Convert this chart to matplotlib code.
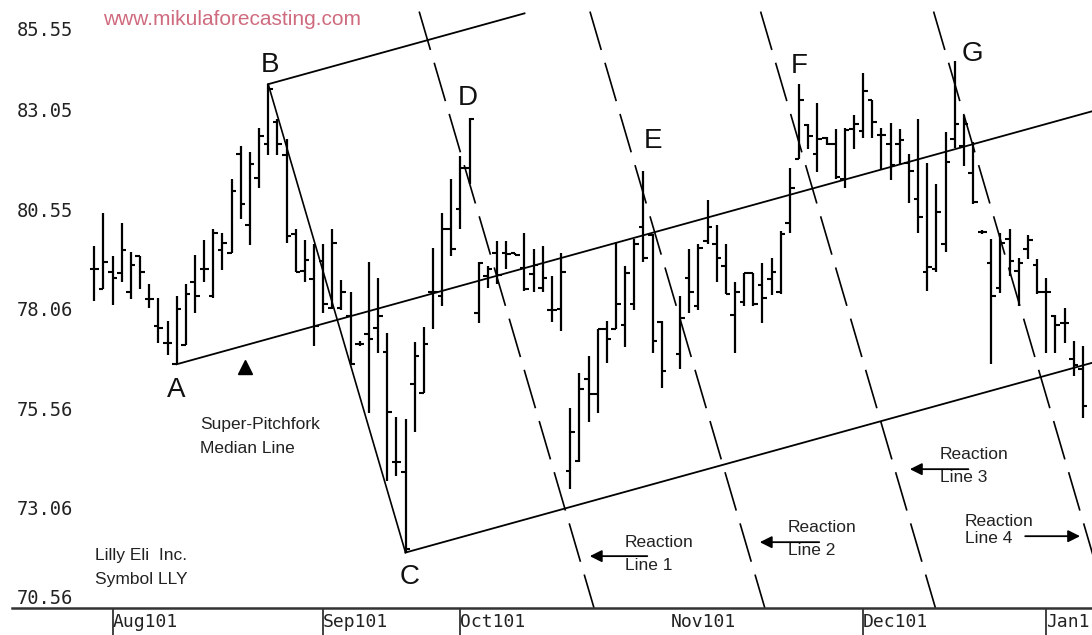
import matplotlib.pyplot as plt
from matplotlib.transforms import ScaledTranslation

plt.rcParams['font.family'] = ['Liberation Sans', 'DejaVu Sans']

# Eli Lilly (LLY) daily bars, trading-day index (day 63 is not printed)
day = list(range(0, 63)) + list(range(64, 109))
high = [79.62, 80.44, 79.37, 80.19, 79.47, 79.37, 78.66, 78.33, 77.74, 78.37,
        78.66, 79.39, 79.77, 80.06, 79.96, 81.31, 82.13, 81.98, 82.57, 83.68,
        82.80, 82.30, 80.06, 79.77, 79.67, 79.67, 80.04, 78.76, 78.46, 77.24,
        79.22, 78.81, 77.45, 75.35, 75.28, 77.22, 77.59, 79.58, 80.44, 81.31,
        81.88, 82.84, 79.22, 79.12, 79.75, 79.75, 79.46, 79.96, 79.56, 79.62,
        78.87, 79.46, 75.57, 76.43, 76.87, 77.54, 77.74, 79.72, 79.11, 79.79,
        81.50, 79.92, 77.74,
        78.37, 79.54, 79.67, 80.78, 80.14, 79.67, 78.71, 78.94, 78.94, 79.19,
        79.33, 80.00, 81.59, 83.68, 82.67, 83.20, 82.35, 82.55, 82.59, 82.90,
        83.95, 83.28, 82.59, 82.70, 82.55, 81.92, 82.80, 81.70, 81.17, 82.47,
        84.25, 82.90, 82.22, 80.02, 79.79, 79.96, 80.06, 79.33, 79.89, 79.29,
        78.81, 77.89, 78.08, 77.24, 77.12]
low = [78.25, 78.54, 78.14, 78.72, 78.29, 78.54, 78.06, 77.18, 76.88, 76.66,
       77.14, 77.95, 78.72, 78.33, 79.01, 79.46, 80.31, 79.64, 81.09, 81.90,
       81.90, 79.71, 78.97, 78.72, 77.12, 77.95, 78.04, 78.01, 76.66, 77.12,
       75.45, 76.95, 73.73, 73.86, 71.94, 74.95, 75.95, 77.55, 78.11, 79.37,
       80.04, 81.17, 77.69, 78.56, 78.68, 79.04, 79.39, 78.50, 78.47, 78.46,
       77.72, 77.49, 73.53, 74.21, 75.21, 75.45, 76.70, 77.54, 77.10, 78.02,
       79.22, 76.95, 76.06,
       76.53, 77.95, 78.02, 79.67, 78.72, 78.41, 76.95, 78.12, 78.12, 77.70,
       78.39, 78.41, 79.96, 81.80, 82.05, 81.48, 82.15, 81.30, 81.09, 82.05,
       82.34, 82.34, 81.56, 81.28, 81.65, 80.71, 79.94, 78.49, 78.97, 79.47,
       82.07, 81.63, 80.67, 79.92, 76.66, 78.44, 78.87, 78.12, 79.31, 78.41,
       76.95, 76.95, 77.19, 76.37, 75.32]
opn = [79.04, 78.54, 78.96, 78.94, 78.46, 79.37, 78.29, 77.62, 77.20, 76.66,
       77.14, 78.71, 79.04, 78.36, 79.52, 79.46, 81.92, 80.14, 81.34, 82.17,
       82.72, 81.90, 79.92, 79.00, 78.79, 79.24, 78.06, 78.06, 77.87, 77.16,
       77.41, 77.58, 76.97, 74.21, 73.96, 76.16, 75.95, 78.47, 78.37, 80.04,
       80.54, 81.59, 77.94, 78.87, 79.44, 79.44, 79.45, 79.08, 78.91, 78.58,
       78.02, 78.04, 73.99, 74.24, 76.30, 75.91, 77.54, 77.54, 77.64, 78.16,
       80.09, 79.89, 77.71,
       76.91, 78.83, 78.12, 79.75, 79.67, 79.12, 77.89, 78.22, 78.94, 78.64,
       78.79, 78.46, 80.21, 81.81, 82.65, 81.92, 82.32, 82.17, 81.31, 82.55,
       82.51, 83.28, 82.40, 82.17, 82.17, 81.70, 80.81, 78.96, 79.04, 79.67,
       82.30, 82.13, 81.46, 79.97, 79.19, 78.56, 79.79, 79.00, 79.56, 79.14,
       78.46, 77.87, 77.69, 76.78, 76.53]
close = [79.04, 79.22, 78.83, 79.52, 79.14, 78.98, 78.29, 77.58, 77.20, 78.04,
         78.41, 78.37, 79.04, 79.94, 79.71, 81.00, 80.67, 81.69, 82.37, 83.55,
         82.17, 79.87, 78.97, 79.27, 77.62, 78.16, 79.71, 78.47, 76.66, 77.16,
         77.29, 77.87, 75.46, 74.21, 72.02, 76.87, 77.16, 78.47, 80.04, 79.54,
         81.59, 82.80, 79.21, 79.04, 78.89, 79.42, 79.40, 78.54, 79.14, 78.83,
         78.02, 78.96, 74.95, 76.05, 75.91, 77.54, 77.29, 78.16, 78.94, 79.67,
         79.33, 77.24, 76.49,
         77.83, 78.46, 79.58, 80.09, 79.32, 78.41, 78.46, 78.94, 78.16, 78.31,
         78.96, 79.92, 81.09, 83.28, 82.37, 82.30, 82.17, 81.36, 82.53, 82.67,
         83.51, 82.72, 82.40, 81.65, 82.28, 81.50, 80.34, 79.09, 80.47, 81.72,
         82.67, 82.67, 80.72, 79.97, 78.37, 79.69, 79.25, 79.21, 79.77, 78.46,
         78.46, 77.64, 77.69, 76.63, 75.61]

month_day = [2, 25, 40, 63, 84, 104]
month_label = ['Aug101', 'Sep101', 'Oct101', 'Nov101', 'Dec101', 'Jan1']
price_ticks = [85.55, 83.05, 80.55, 78.06, 75.56, 73.06, 70.56]

# pitchfork pivots A, B, C and the median line end
pivot_day = [9, 19, 34]
pivot_price = [76.66, 83.68, 71.94]
median_end = (109, 83.0)
upper_end_day = 47

# reaction lines (parallel to B-C), day where each one crosses 78.06
reaction_day = [45.0, 63.66, 82.3, 101.2]
reaction_ref = 78.06
reaction_top = 85.5

letters = ['A', 'B', 'C', 'D', 'E', 'F', 'G']
letter_day = [9.0, 19.2, 34.4, 40.8, 61.0, 77.0, 95.9]
letter_price = [76.01, 84.15, 71.32, 83.33, 82.25, 84.13, 84.43]

fig = plt.figure(figsize=(10.92, 6.35), dpi=100)
ax = fig.add_axes([12 / 1092, 27 / 635, 1080 / 1092, 608 / 635])
ax.set_xlim(-8.99, 109.0)
ax.set_ylim(70.55, 85.79)

# OHLC bars
ax.vlines(day, low, high, color='black', lw=1.6)
ax.hlines(opn, [d - 0.5 for d in day], day, color='black', lw=1.5)
ax.hlines(close, day, [d + 0.5 for d in day], color='black', lw=1.5)

# super pitchfork
slope = (median_end[1] - pivot_price[0]) / (median_end[0] - pivot_day[0])
ax.plot([pivot_day[0], median_end[0]], [pivot_price[0], median_end[1]],
        color='black', lw=1.3)
ax.plot([pivot_day[1], upper_end_day],
        [pivot_price[1], pivot_price[1] + (upper_end_day - pivot_day[1]) * slope],
        color='black', lw=1.3)
ax.plot([pivot_day[2], median_end[0]],
        [pivot_price[2], pivot_price[2] + (median_end[0] - pivot_day[2]) * slope],
        color='black', lw=1.3)
ax.plot(pivot_day[1:], pivot_price[1:], color='black', lw=1.2)

bc_slope = (pivot_price[2] - pivot_price[1]) / (pivot_day[2] - pivot_day[1])
ybot = ax.get_ylim()[0]
for d0 in reaction_day:
    xs = [d0 + (reaction_top - reaction_ref) / bc_slope,
          d0 + (ybot - reaction_ref) / bc_slope]
    ax.plot(xs, [reaction_top, ybot], color='black', lw=1.2, ls=(0, (24, 8)))

for name, d, p in zip(letters, letter_day, letter_price):
    ax.text(d, p, name, fontsize=20, ha='center', va='center', color='#111111')

ax.plot([16.5], [76.58], marker='^', color='black', markersize=10)

small = dict(fontsize=12.5, color='#222222', ha='left', va='center')
ax.text(0.95, 85.31, 'www.mikulaforecasting.com', fontsize=15,
        color='#cf6b7f', ha='left', va='center')
ax.text(11.57, 75.16, 'Super-Pitchfork', **small)
ax.text(11.57, 74.55, 'Median Line', **small)
ax.text(0.07, 71.87, 'Lilly Eli  Inc.', **small)
ax.text(0.07, 71.27, 'Symbol LLY', **small)

ax.text(57.99, 72.20, 'Reaction', **small)
ax.text(57.99, 71.62, 'Line 1', **small)
ax.text(75.8, 72.57, 'Reaction', **small)
ax.text(75.8, 71.99, 'Line 2', **small)
ax.text(92.4, 74.40, 'Reaction', **small)
ax.text(92.4, 73.83, 'Line 3', **small)
ax.text(95.1, 72.72, 'Reaction', **small)
ax.text(95.1, 72.30, 'Line 4', **small)

arrow = dict(arrowstyle='-|>', color='black', lw=1.3, mutation_scale=18)
ax.annotate('', xy=(53.83, 71.85), xytext=(60.72, 71.85), arrowprops=arrow)
ax.annotate('', xy=(72.4, 72.20), xytext=(79.5, 72.20), arrowprops=arrow)
ax.annotate('', xy=(88.8, 74.03), xytext=(95.8, 74.03), arrowprops=arrow)
ax.annotate('', xy=(108.0, 72.35), xytext=(101.4, 72.35), arrowprops=arrow)

# axes: only the bottom rule with month separators
for side in ['left', 'top', 'right']:
    ax.spines[side].set_visible(False)
ax.spines['bottom'].set_linewidth(1.8)
ax.spines['bottom'].set_color('#333333')

ax.set_yticks(price_ticks, ['%.2f' % v for v in price_ticks])
ax.tick_params(axis='y', length=0, pad=-43.9, labelsize=13.5, labelcolor='#222222')
for lab in ax.get_yticklabels():
    lab.set_fontfamily('DejaVu Sans Mono')
top_lab = ax.get_yticklabels()[0]
top_lab.set_va('top')
top_lab.set_transform(top_lab.get_transform()
                      + ScaledTranslation(0, -8 / 72, fig.dpi_scale_trans))
ax.get_yticklabels()[-1].set_va('bottom')

ax.set_xticks(month_day, month_label)
ax.tick_params(axis='x', direction='out', length=19.4, width=1.3, color='#333333',
               pad=-15.8, labelsize=13, labelcolor='#222222')
for lab in ax.get_xticklabels():
    lab.set_fontfamily('DejaVu Sans Mono')
    lab.set_ha('left')
ax.xaxis.get_major_ticks()[3].tick1line.set_visible(False)

plt.savefig('out.png', dpi=100)
plt.close(fig)
